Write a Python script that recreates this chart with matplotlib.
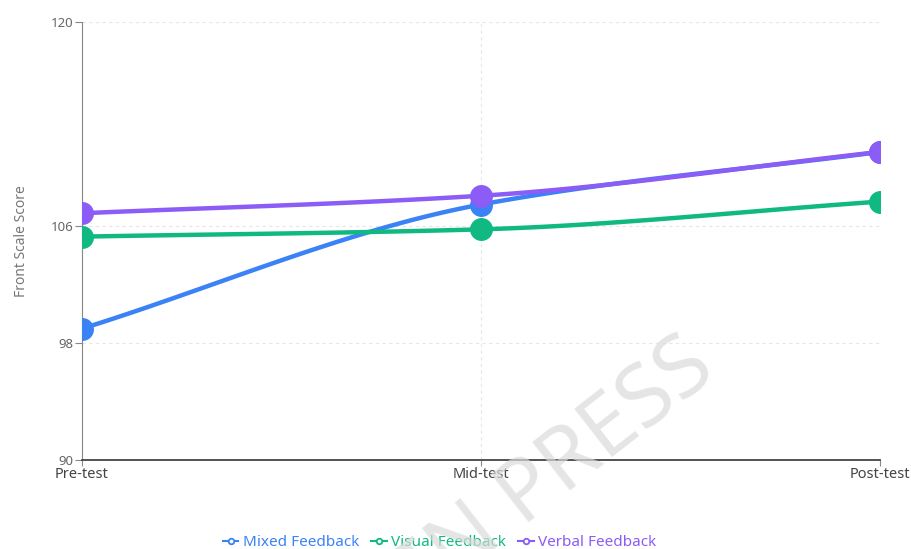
import numpy as np
import matplotlib.pyplot as plt
from matplotlib.lines import Line2D

plt.rcParams['font.family'] = ['Noto Sans', 'DejaVu Sans']

phases = ["Pre-test", "Mid-test", "Post-test"]
mixed = [99.0, 107.5, 111.1]
visual = [105.3, 105.8, 107.7]
verbal = [106.9, 108.1, 111.1]
y_ticks = [90, 98, 106, 120]

series = [
    ("Mixed Feedback", mixed, "#3b82f6"),
    ("Visual Feedback", visual, "#10b981"),
    ("Verbal Feedback", verbal, "#8b5cf6"),
]


def monotone_curve(x, y, n=60):
    # Fritsch-Carlson monotone cubic, used only to shape the connecting line
    x = np.asarray(x, float)
    y = np.asarray(y, float)
    h = np.diff(x)
    d = np.diff(y) / h
    m = np.zeros_like(y)
    m[0], m[-1] = d[0], d[-1]
    for i in range(1, len(y) - 1):
        if d[i - 1] * d[i] <= 0:
            m[i] = 0
        else:
            w1 = 2 * h[i] + h[i - 1]
            w2 = h[i] + 2 * h[i - 1]
            m[i] = (w1 + w2) / (w1 / d[i - 1] + w2 / d[i])
    xs, ys = [], []
    for i in range(len(h)):
        t = np.linspace(0, 1, n)
        h00 = 2 * t**3 - 3 * t**2 + 1
        h10 = t**3 - 2 * t**2 + t
        h01 = -2 * t**3 + 3 * t**2
        h11 = t**3 - t**2
        xs.append(x[i] + t * h[i])
        ys.append(h00 * y[i] + h10 * h[i] * m[i] + h01 * y[i + 1] + h11 * h[i] * m[i + 1])
    return np.concatenate(xs), np.concatenate(ys)


fig = plt.figure(figsize=(9.12, 5.49), dpi=100)
ax = fig.add_axes([0.0899, 0.162, 0.875, 0.798])

xpos = np.arange(len(phases))
for name, vals, color in series:
    cx, cy = monotone_curve(xpos, vals)
    ax.plot(cx, cy, color=color, lw=3.2, solid_capstyle="round", zorder=3)
    ax.plot(xpos, vals, "o", color=color, markersize=15.5, zorder=4)

ax.set_xlim(0, 2)
ax.set_ylim(90, 120)
ax.set_xticks(xpos)
ax.set_xticklabels(phases, fontsize=10.5, color="#444444")
ax.set_yticks(y_ticks)
ax.set_yticklabels([str(t) for t in y_ticks], fontsize=9.5, color="#666666")

ax.grid(True, color="#e6e6e6", linestyle=(0, (3, 3)), lw=0.8, zorder=0)
for s in ["top", "right"]:
    ax.spines[s].set_visible(False)
ax.spines["left"].set_color("#888888")
ax.spines["bottom"].set_color("#444444")
ax.spines["bottom"].set_linewidth(1.3)
ax.tick_params(axis="y", length=5, color="#888888", pad=1)
ax.tick_params(axis="x", length=4, color="#888888", pad=1)
ax.set_ylabel("Front Scale Score", fontsize=10, color="#777777", labelpad=16)

handles = [Line2D([0], [0], color=c, lw=1.5, marker="o", markersize=4,
                  markerfacecolor="white", markeredgewidth=1.3)
           for _, _, c in series]
leg = fig.legend(handles, [n for n, _, _ in series], loc="center",
                 bbox_to_anchor=(0.482, 0.012), ncol=3, frameon=False,
                 fontsize=11, handlelength=1.0, handletextpad=0.3,
                 columnspacing=0.8)
for txt, (_, _, c) in zip(leg.get_texts(), series):
    txt.set_color(c)

# watermark
fig.text(0.615, 0.145, "IN PRESS", fontsize=62, color="#dadada", alpha=0.7,
         rotation=38, ha="center", va="center", zorder=10)

fig.savefig("out.png", dpi=100)
